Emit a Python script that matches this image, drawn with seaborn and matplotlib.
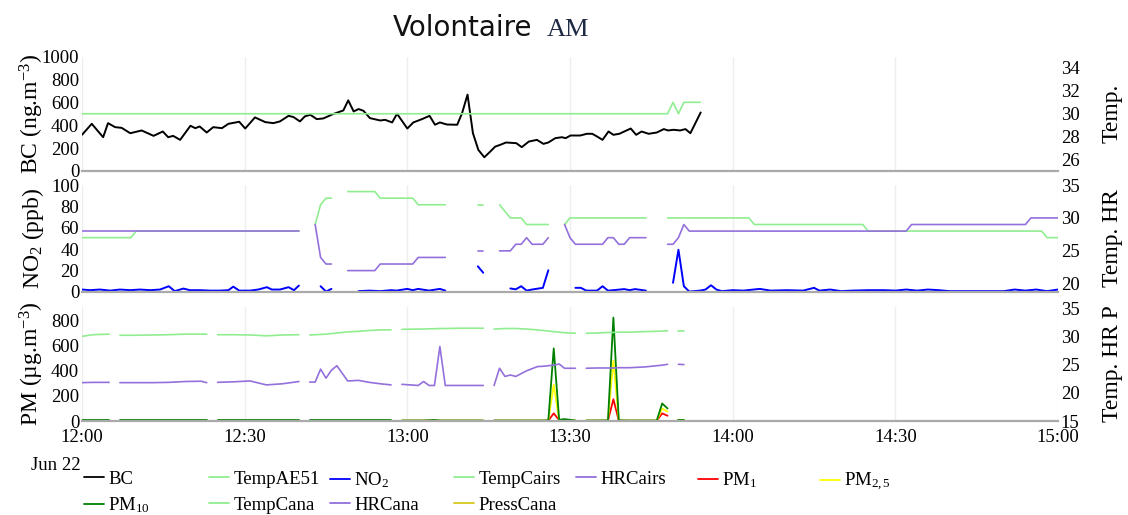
import numpy as np
import pandas as pd
import matplotlib
matplotlib.use("Agg")
import matplotlib.pyplot as plt
import matplotlib.dates as mdates
from matplotlib.lines import Line2D
import seaborn as sns

nan = np.nan
START = pd.Timestamp("2021-06-22 12:00")

# ---------------- data (times in minutes after 12:00, Jun 22) ----------------
bc_t = [0, 1.8, 3.9, 4.8, 6.1, 7.3, 8.9, 11.0, 13.2, 14.9, 15.9, 16.8, 18.1, 20.0, 20.9,
        21.7, 23.0, 24.2, 25.8, 27.0, 29.0, 30.1, 31.9, 33.8, 35.3, 36.5, 38.1, 39.0, 40.2,
        41.1, 42.1, 43.3, 44.5, 46.3, 48.2, 49.1, 50.1, 51.0, 51.9, 53.1, 55.0, 55.9, 57.2,
        58.1, 60.0, 61.1, 62.7, 64.1, 65.1, 66.0, 67.3, 69.2, 70.1, 71.1, 72.1, 73.1, 74.2,
        75.3, 76.2, 77.1, 78.2, 80.1, 81.1, 82.4, 83.9, 85.1, 86.0, 87.3, 88.5, 89.2, 90.1,
        91.9, 93.1, 94.1, 95.0, 96.0, 97.1, 98.0, 99.1, 101.2, 102.2, 103.2, 104.5, 106.0,
        107.3, 108.1, 109.1, 110.3, 111.3, 112.2, 114.1]
bc = [316, 412, 295, 418, 383, 377, 330, 354, 307, 345, 295, 307, 272, 395, 374, 389, 336,
      383, 374, 412, 430, 371, 468, 427, 418, 433, 482, 471, 433, 477, 491, 453, 459, 497,
      529, 617, 520, 541, 526, 462, 441, 447, 424, 500, 371, 424, 453, 482, 404, 424, 406,
      404, 506, 667, 330, 184, 120, 170, 213, 228, 249, 243, 208, 257, 272, 237, 249, 287,
      295, 287, 310, 310, 325, 325, 301, 272, 345, 316, 325, 371, 316, 345, 325, 336, 366,
      354, 360, 354, 366, 330, 511]

ae51_t = [0, 108, 109, 110, 111, 114]
temp_ae51 = [30, 30, 31, 30, 31, 31]

cairs_t = [0, 9, 10, 40, 41.5,
           43, 44, 45, 46, 47.5,
           49, 54, 55, 61, 62, 67, 70,
           73, 74, 75.5,
           77, 78, 79, 80, 81, 82, 83, 85, 86, 87.5,
           89, 90, 91, 96, 97, 98, 99, 100, 101, 104, 106,
           108, 109, 110, 111, 112, 123, 124, 144, 145, 152, 153, 174, 175, 177, 178, 180]
temp_cairs = [27, 27, 28, 28, nan,
              29, 32, 33, 33, nan,
              34, 34, 33, 33, 32, 32, nan,
              32, 32, nan,
              32, 31, 30, 30, 30, 29, 29, 29, 29, nan,
              29, 30, 30, 30, 30, 30, 30, 30, 30, 30, nan,
              30, 30, 30, 30, 30, 30, 29, 29, 28, 28, 28, 28, 28, 28, 27, 27]
hr_cairs = [28, 28, 28, 28, nan,
            29, 24, 23, 23, nan,
            22, 22, 23, 23, 24, 24, nan,
            25, 25, nan,
            25, 25, 25, 26, 26, 27, 26, 26, 27, nan,
            29, 27, 26, 26, 27, 27, 26, 26, 27, 27, nan,
            26, 26, 27, 29, 28, 28, 28, 28, 28, 28, 29, 29, 30, 30, 30, 30]

no2_t = [0, 1.5, 3.3, 5.2, 7, 8.9, 10.7, 12.6, 14.4, 16, 17.1, 18.7, 19.9, 21.8, 23.6, 25.4,
         27, 27.9, 29, 31, 32.5, 34.1, 35, 36.5, 38.1, 39.1, 40, 42,
         44, 45, 46, 48,
         51, 53, 55, 57, 58, 60, 61, 62, 64, 66, 67, 70,
         73, 74, 76,
         79, 80, 81, 82, 83, 85, 86, 88,
         91, 92, 93, 95, 96, 97, 98, 100, 101, 102, 104, 106,
         109, 110, 111, 112, 114, 115, 116, 117, 118, 120, 122, 125, 127, 130, 133, 135, 136,
         138, 140, 142, 145, 148, 150, 152, 154, 156, 158, 160, 165, 170, 172, 174, 176, 178, 180]
no2 = [2.3, 1.7, 2.3, 1.3, 2.3, 1.7, 2.3, 1.7, 2.3, 5.4, 0.8, 3.2, 1.7, 1.7, 1.3, 1.3,
       1.7, 5.0, 1.3, 1.3, 2.3, 4.5, 2.3, 2.3, 4.5, 1.7, 6.0, nan,
       5.4, 0.4, 2.9, nan,
       0.8, 1.3, 0.8, 1.7, 1.3, 2.9, 1.7, 2.9, 1.3, 2.9, 1.3, nan,
       24, 18, nan,
       3.3, 2.5, 5.4, 1.3, 2.3, 3.9, 20.3, nan,
       3.9, 3.9, 1.3, 1.3, 5.4, 1.3, 1.7, 2.7, 1.7, 2.7, 1.3, nan,
       8.6, 39.5, 5.4, 0.4, 1.3, 2.3, 6.3, 2.3, 0.8, 1.7, 1.3, 2.9, 1.3, 1.7, 1.3, 3.9, 1.3,
       2.3, 0.8, 1.3, 1.7, 1.7, 1.3, 2.3, 1.3, 2.3, 1.7, 0.8, 0.8, 0.8, 2.3, 1.3, 2.3, 0.8, 2.3]

cana_t = [0, 2, 5, 6,
          7, 10, 13, 16, 19, 22, 23, 24,
          25, 28, 31, 34, 37, 40, 41,
          42, 43, 44, 45, 46, 47, 48, 49, 51, 53, 55, 57, 58,
          59, 62, 63, 64, 65, 66, 67, 70, 74, 75,
          76, 77, 78, 79, 80, 82, 84, 85, 86, 87, 88, 89, 91, 92,
          93, 95, 97, 98, 99, 101, 104, 106, 107, 108, 109,
          110, 111]
temp_cana = [30.0, 30.3, 30.4, nan,
             30.2, 30.2, 30.25, 30.3, 30.4, 30.4, 30.4, nan,
             30.3, 30.3, 30.25, 30.1, 30.25, 30.3, nan,
             30.25, 30.3, 30.35, 30.4, 30.5, 30.6, 30.7, 30.8, 30.9, 31.05, 31.15, 31.15, nan,
             31.25, 31.3, 31.3, 31.35, 31.35, 31.4, 31.4, 31.45, 31.45, nan,
             31.3, 31.35, 31.4, 31.4, 31.4, 31.3, 31.15, 31.05, 30.95, 30.85, 30.75, 30.65, 30.55, nan,
             30.55, 30.6, 30.7, 30.7, 30.75, 30.75, 30.85, 30.9, 30.95, 31.0, nan,
             31.0, 31.0]
hr_cana = [21.8, 21.85, 21.85, nan,
           21.8, 21.8, 21.8, 21.85, 22.0, 22.05, 21.8, nan,
           21.85, 21.95, 22.1, 21.4, 21.6, 22.0, nan,
           21.9, 21.9, 24.2, 22.6, 24.0, 24.8, 23.45, 22.1, 22.2, 21.85, 21.6, 21.4, nan,
           21.5, 21.3, 22.0, 21.3, 21.3, 28.2, 21.3, 21.3, 21.3, nan,
           21.3, 24.35, 22.9, 23.15, 22.9, 23.9, 24.65, 24.7, 24.8, 24.9, 25.1, 24.35, 24.35, nan,
           24.35, 24.4, 24.4, 24.4, 24.45, 24.45, 24.6, 24.8, 24.9, 25.05, nan,
           25.05, 25.0]
pm10 = [4, 4, 4, nan,
        4, 4, 4, 4, 4, 4, 4, nan,
        4, 4, 4, 4, 4, 4, nan,
        4, 4, 4, 4, 4, 4, 4, 4, 4, 4, 4, 4, nan,
        4, 4, 4, 6, 8, 4, 4, 4, 4, nan,
        4, 4, 4, 4, 4, 4, 4, 4, 5, 580, 10, 15, 4, nan,
        4, 4, 5, 826, 5, 4, 4, 4, 140, 100, nan,
        5, 5]
pm25 = [3, 3, 3, nan,
        3, 3, 3, 3, 3, 3, 3, nan,
        3, 3, 3, 3, 3, 3, nan,
        3, 3, 3, 3, 3, 3, 3, 3, 3, 3, 3, 3, nan,
        3, 3, 3, 4, 5, 3, 3, 3, 3, nan,
        3, 3, 3, 3, 3, 3, 3, 3, 4, 290, 6, 10, 3, nan,
        3, 3, 4, 483, 4, 3, 3, 3, 100, 75, nan,
        4, 4]
pm1 = [2, 2, 2, nan,
       2, 2, 2, 2, 2, 2, 2, nan,
       2, 2, 2, 2, 2, 2, nan,
       2, 2, 2, 2, 2, 2, 2, 2, 2, 2, 2, 2, nan,
       2, 2, 2, 3, 3, 2, 2, 2, 2, nan,
       2, 2, 2, 2, 2, 2, 2, 2, 3, 61, 8, 6, 2, nan,
       2, 2, 3, 174, 3, 2, 2, 2, 61, 42, nan,
       3, 3]

# ---------------- style ----------------
sns.set_theme(style="white")
plt.rcParams["font.family"] = ["Liberation Serif", "DejaVu Serif"]
plt.rcParams["mathtext.fontset"] = "custom"
plt.rcParams["mathtext.rm"] = "Liberation Serif"
plt.rcParams["mathtext.it"] = "Liberation Serif:italic"
plt.rcParams["mathtext.default"] = "regular"
plt.rcParams["text.color"] = "black"

C_BC = "black"
C_TEMP = "#90EE90"
C_HR = "#9370DB"
C_NO2 = "#0000FF"
C_PM1 = "#FF0000"
C_PM25 = "#FFFF00"
C_PM10 = "#008000"
C_PRESS = "#D4C81E"

W, H = 1128, 515
fig = plt.figure(figsize=(W / 100, H / 100), dpi=100)


def px_axes(x0, y0, x1, y1):
    return fig.add_axes([x0 / W, 1 - y1 / H, (x1 - x0) / W, (y1 - y0) / H])


ax1 = px_axes(82, 56.5, 1058, 171)
ax2 = px_axes(82, 185, 1058, 292)
ax3 = px_axes(82, 306.5, 1058, 421)
tw1, tw2, tw3 = ax1.twinx(), ax2.twinx(), ax3.twinx()


def frame(t, v):
    df = pd.DataFrame({"time": START + pd.to_timedelta(np.asarray(t, float), unit="m"),
                       "value": np.asarray(v, float)})
    df["seg"] = df["value"].isna().cumsum()
    return df.dropna()


def draw(ax, t, v, color, lw=1.1):
    sns.lineplot(data=frame(t, v), x="time", y="value", units="seg", estimator=None,
                 color=color, linewidth=lw, ax=ax, legend=False)


draw(ax1, bc_t, bc, C_BC, 1.4)
draw(tw1, ae51_t, temp_ae51, C_TEMP, 1.2)

draw(ax2, no2_t, no2, C_NO2, 1.4)
draw(tw2, cairs_t, temp_cairs, C_TEMP, 1.2)
draw(tw2, cairs_t, hr_cairs, C_HR, 1.2)

draw(ax3, cana_t, pm1, C_PM1, 1.3)
draw(ax3, cana_t, pm25, C_PM25, 1.3)
draw(ax3, cana_t, pm10, C_PM10, 1.3)
draw(tw3, cana_t, temp_cana, C_TEMP, 1.2)
draw(tw3, cana_t, hr_cana, C_HR, 1.2)

panels = [
    (ax1, tw1, (0, 1000), range(0, 1001, 200), (25, 35), range(26, 35, 2),
     "BC (ng.m$^{-3}$)", "Temp."),
    (ax2, tw2, (0, 100), range(0, 101, 20), (18.75, 35.0), range(20, 36, 5),
     "NO$_2$ (ppb)", "Temp. HR"),
    (ax3, tw3, (0, 915), range(0, 801, 200), (15, 35.3), range(15, 36, 5),
     "PM (µg.m$^{-3}$)", "Temp. HR P"),
]
for ax, tw, yl, yt, yl2, yt2, lab, lab2 in panels:
    ax.set_xlim(START, START + pd.Timedelta(minutes=180))
    ax.set_ylim(*yl)
    ax.set_yticks(list(yt))
    tw.set_ylim(*yl2)
    tw.set_yticks(list(yt2))
    for a in (ax, tw):
        for s in a.spines.values():
            s.set_visible(False)
    ax.spines["bottom"].set_visible(True)
    ax.spines["bottom"].set_color("#aaaaaa")
    ax.spines["bottom"].set_linewidth(1.6)
    ax.xaxis.set_major_locator(mdates.MinuteLocator(byminute=[0, 30]))
    ax.xaxis.set_major_formatter(mdates.DateFormatter("%H:%M"))
    ax.grid(False)
    ax.grid(True, axis="x", color="#eeeeee", linewidth=1)
    tw.grid(False)
    ax.set_axisbelow(True)
    ax.tick_params(axis="y", length=0, pad=2, labelsize=13.5, labelcolor="black")
    tw.tick_params(axis="y", length=0, pad=2, labelsize=13.5, labelcolor="black")
    ax.tick_params(axis="x", length=0, pad=5.5, labelsize=13.5, labelcolor="black")
    ax.set_xlabel("")
    tw.set_xlabel("")
    ax.set_ylabel(lab, fontsize=17, color="black")
    tw.set_ylabel(lab2, fontsize=17, color="black")
    ax.yaxis.set_label_coords(-0.037, 0.5)
    tw.yaxis.set_label_coords(1.045, 0.5)

ax1.tick_params(axis="x", labelbottom=False)
ax2.tick_params(axis="x", labelbottom=False)

fig.text(56 / W, 1 - 465 / H, "Jun 22", ha="center", va="center", fontsize=13.5)

# title
fig.text(393 / W, 1 - 36 / H, "Volontaire", family="DejaVu Sans", fontsize=20,
         ha="left", va="baseline", color="#111111")
fig.text(546.5 / W, 1 - 36 / H, "AM", family="Liberation Serif", fontsize=19,
         ha="left", va="baseline", color="#1f2a44")

# legend (one entry per slot, laid out like the reference)
legend_items = [
    ("BC", C_BC, 84, 479), ("TempAE51", C_TEMP, 209, 479), ("NO$_2$", C_NO2, 330, 480),
    ("TempCairs", C_TEMP, 454, 479), ("HRCairs", C_HR, 576, 479),
    ("PM$_1$", C_PM1, 698, 480), ("PM$_{2,5}$", C_PM25, 820, 482),
    ("PM$_{10}$", C_PM10, 84, 505), ("TempCana", C_TEMP, 209, 505),
    ("HRCana", C_HR, 330, 505), ("PressCana", C_PRESS, 454, 505),
]
for label, col, x, y in legend_items:
    h = Line2D([], [], color=col, linewidth=1.3)
    fig.legend([h], [label], loc="center left", bbox_to_anchor=(x / W, 1 - y / H),
               frameon=False, borderpad=0, borderaxespad=0, handlelength=1.05,
               handletextpad=0.25, fontsize=13.5)

fig.savefig("out.png", dpi=100)
